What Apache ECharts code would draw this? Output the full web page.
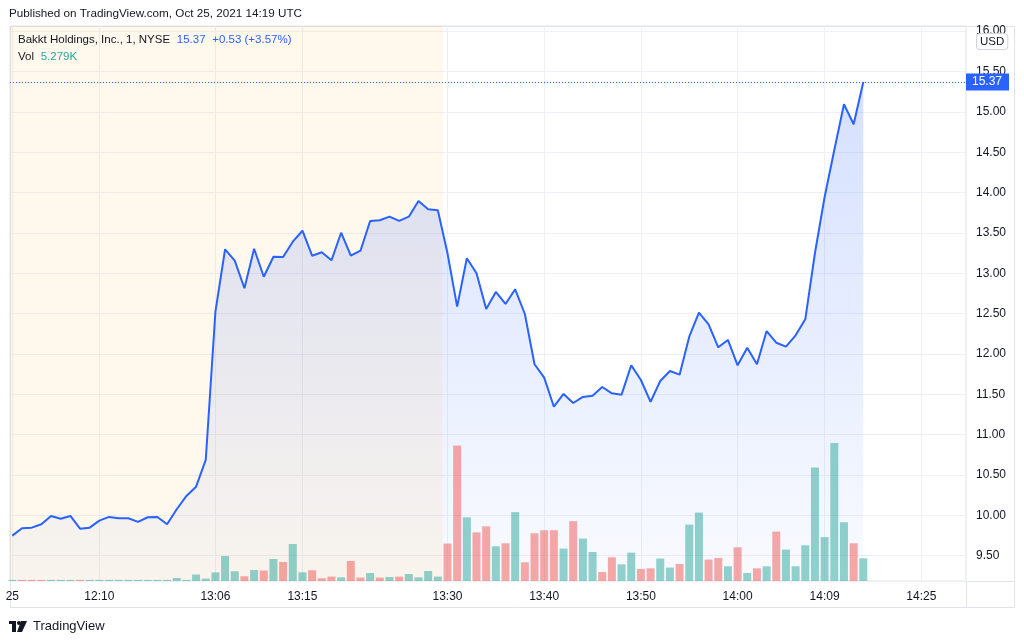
<!DOCTYPE html>
<html><head><meta charset="utf-8">
<script src="https://cdn.jsdelivr.net/npm/echarts@6/dist/echarts.min.js"></script>
<style>html,body{margin:0;padding:0;background:#fff}#c{width:1024px;height:643px}</style>
</head><body><div id="c"></div>
<script>
// Close price per 1-minute bar (index 45 = 13:30 regular session open)
const price = [
  9.748, 9.840, 9.847, 9.889, 9.992, 9.958, 9.992, 9.835, 9.847, 9.934,
  9.980, 9.963, 9.963, 9.918, 9.976, 9.980, 9.889, 10.075, 10.240, 10.355,
  10.686, 12.524, 13.297, 13.156, 12.814, 13.304, 12.957, 13.205, 13.201, 13.391,
  13.527, 13.217, 13.260, 13.160, 13.502, 13.217, 13.279, 13.648, 13.656, 13.701,
  13.648, 13.701, 13.895, 13.793, 13.780, 13.247, 12.586, 13.185, 12.999, 12.557,
  12.768, 12.619, 12.801, 12.495, 11.872, 11.706, 11.346, 11.504, 11.392, 11.467,
  11.483, 11.590, 11.512, 11.495, 11.859, 11.677, 11.405, 11.665, 11.789, 11.743,
  12.214, 12.511, 12.367, 12.082, 12.173, 11.859, 12.077, 11.872, 12.284, 12.139,
  12.090, 12.231, 12.429, 13.251, 13.945, 14.527, 15.094, 14.846, 15.37
];
// Volume per bar, thousands of shares
const volume = [
  0.25, 0.25, 0.25, 0.25, 0.25, 0.25, 0.25, 0.25, 0.25, 0.25,
  0.25, 0.25, 0.25, 0.25, 0.25, 0.25, 0.25, 0.7, 0.25, 1.5,
  0.56, 2.0, 5.8, 2.26, 1.09, 2.56, 2.42, 5.12, 4.42, 8.6,
  2.02, 2.49, 0.63, 1.02, 0.86, 4.65, 0.79, 1.86, 0.79, 0.93,
  1.02, 1.63, 0.86, 2.33, 1.02, 8.7, 31.5, 14.8, 11.3, 12.7,
  8.07, 8.77, 16.0, 4.35, 11.1, 11.8, 11.8, 7.53, 13.9, 9.86,
  6.74, 2.09, 5.51, 3.88, 6.6, 2.79, 2.95, 5.21, 3.12, 3.95,
  13.1, 15.9, 4.98, 5.35, 3.42, 7.84, 1.86, 2.95, 3.42, 11.5,
  7.3, 3.42, 8.3, 26.4, 10.2, 32.1, 13.65, 8.77, 5.279
];
// 1 = up bar (green), 0 = down bar (red)
const volDir = [
  1,0,0,0,1,1,1,0,1,1,
  1,1,1,1,1,1,1,1,1,1,
  1,1,1,1,0,1,0,1,0,1,
  1,0,0,0,1,0,0,1,0,1,
  0,1,1,1,1,0,0,1,0,0,
  1,0,1,0,0,0,0,1,0,1,
  1,0,0,1,1,0,0,1,1,0,
  1,1,0,0,1,0,1,0,1,0,
  1,1,1,1,1,1,1,0,1
];
const xTickIndex  = [0, 9, 21, 30, 45, 55, 65, 75, 84, 94];
const xTickLabels = ['25', '12:10', '13:06', '13:15', '13:30', '13:40', '13:50', '14:00', '14:09', '14:25'];
const priceTicks  = [9.5, 10, 10.5, 11, 11.5, 12, 12.5, 13, 13.5, 14, 14.5, 15, 15.5, 16];
const sessionOpenIndex = 45;
const lastPrice = 15.37;

const FONT = '"Liberation Sans", Arial, sans-serif';
const xMin = -0.243, xMax = 98.62;

const chart = echarts.init(document.getElementById('c'), null, {renderer: 'canvas'});
chart.setOption({
  animation: false,
  backgroundColor: '#ffffff',
  textStyle: {fontFamily: FONT},
  grid: {left: 10, top: 26, right: 58, bottom: 62, show: true, borderColor: '#e0e3eb', borderWidth: 1},
  xAxis: {
    type: 'value', min: xMin, max: xMax,
    axisLine: {show: false},
    axisTick: {show: false, customValues: xTickIndex},
    axisLabel: {
      customValues: xTickIndex, color: '#131722', fontSize: 12, margin: 10, fontFamily: FONT,
      formatter: v => xTickLabels[xTickIndex.indexOf(Math.round(v))] || ''
    },
    splitLine: {show: true, lineStyle: {color: '#eef0f5', width: 1}}
  },
  yAxis: [
    {
      type: 'value', position: 'right', min: 9.186, max: 16.064, scale: true,
      axisLine: {show: false},
      axisTick: {show: false, customValues: priceTicks},
      axisLabel: {customValues: priceTicks, color: '#131722', fontSize: 12, margin: 10, fontFamily: FONT,
        formatter: v => v.toFixed(2)},
      splitLine: {show: true, lineStyle: {color: '#eef0f5', width: 1}}
    },
    {
      type: 'value', min: 0, max: 129, show: false, splitLine: {show: false}
    }
  ],
  series: [
    {
      type: 'bar', xAxisIndex: 0, yAxisIndex: 1, barWidth: 8, z: 3, silent: true,
      data: volume.map((v, i) => [i, v]),
      itemStyle: {color: p => volDir[p.dataIndex] ? 'rgba(38,166,154,0.5)' : 'rgba(239,83,80,0.5)'},
      markArea: {
        silent: true,
        itemStyle: {color: 'rgba(255,152,0,0.07)'},
        data: [[{xAxis: xMin}, {xAxis: sessionOpenIndex - 0.5}]]
      }
    },
    {
      type: 'line', xAxisIndex: 0, yAxisIndex: 0, z: 2, silent: true,
      data: price.map((v, i) => [i, v]),
      symbol: 'none',
      lineStyle: {color: '#2962FF', width: 2},
      areaStyle: {
        origin: 'start',
        color: new echarts.graphic.LinearGradient(0, 0, 0, 1, [
          {offset: 0, color: 'rgba(41,98,255,0.28)'},
          {offset: 1, color: 'rgba(41,98,255,0.04)'}
        ])
      },
      markLine: {
        silent: true, symbol: ['none', 'none'],
        lineStyle: {color: '#2962FF', type: [1, 2], width: 1},
        label: {
          show: true, position: 'end', distance: 0,
          formatter: () => lastPrice.toFixed(2),
          backgroundColor: '#2962FF', color: '#ffffff', fontSize: 12, fontFamily: FONT,
          padding: [3, 7, 2, 6]
        },
        data: [{yAxis: lastPrice}]
      }
    }
  ],
  graphic: [
    {type: 'rect', silent: true, z: 0, shape: {x: 10.5, y: 26.5, width: 1004, height: 581},
     style: {fill: 'none', stroke: '#e0e3eb', lineWidth: 1}},
    {type: 'line', silent: true, shape: {x1: 966, y1: 581.5, x2: 1015, y2: 581.5}, style: {stroke: '#e0e3eb', lineWidth: 1}},
    {type: 'line', silent: true, shape: {x1: 966.5, y1: 581, x2: 966.5, y2: 608}, style: {stroke: '#e0e3eb', lineWidth: 1}},
    {type: 'text', silent: true, z: 100, left: 9, top: 8,
     style: {text: 'Published on TradingView.com, Oct 25, 2021 14:19 UTC', fill: '#131722', font: '11.7px ' + FONT}},
    {type: 'text', silent: true, z: 100, left: 18, top: 34,
     style: {
       text: '{n|Bakkt Holdings, Inc., 1, NYSE}  {b|15.37}  {b|+0.53 (+3.57%)}\n{n|Vol}  {g|5.279K}',
       rich: {
         n: {fill: '#131722', font: '11.5px ' + FONT, lineHeight: 17},
         b: {fill: '#2962FF', font: '11.5px ' + FONT, lineHeight: 17},
         g: {fill: '#26a69a', font: '11.5px ' + FONT, lineHeight: 17}
       }
     }},
    {type: 'text', silent: true, z: 100, left: 976, top: 33,
     style: {text: 'USD', fill: '#131722', font: '11.5px ' + FONT, backgroundColor: '#ffffff',
       borderColor: '#d1d4dc', borderWidth: 1, borderRadius: 3, padding: [2, 3, 1, 3]}},
    {type: 'group', left: 9, top: 621, silent: true, children: [
      {type: 'rect', shape: {x: 0, y: 0, width: 7, height: 3}, style: {fill: '#131722'}},
      {type: 'rect', shape: {x: 3, y: 0, width: 4, height: 11}, style: {fill: '#131722'}},
      {type: 'circle', shape: {cx: 10, cy: 2, r: 2}, style: {fill: '#131722'}},
      {type: 'polygon', shape: {points: [[12, 0], [18, 0], [13, 11], [8, 11]]}, style: {fill: '#131722'}}
    ]},
    {type: 'text', silent: true, left: 33, top: 620,
     style: {text: 'TradingView', fill: '#131722', font: '13px ' + FONT}}
  ]
});
</script>
</body></html>
